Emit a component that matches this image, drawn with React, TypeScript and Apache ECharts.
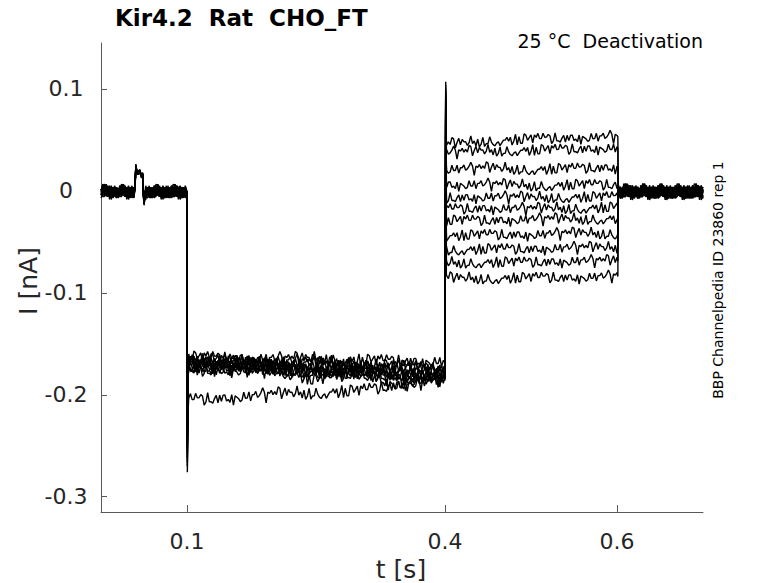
import React, { useEffect, useRef } from "react";
import * as echarts from "echarts";

// ---- data ----
const sweepCount = 11;
const sampleStep = 0.002; // s
const endTime = 0.7;
const holdLevel = -0.001; // nA

// small electrode artifact before the pulse
const artifactTimes = [0.0395, 0.0405, 0.0415, 0.043, 0.045, 0.047, 0.0485, 0.0495, 0.0502, 0.0512];
const artifactValues = [0.002, 0.024, 0.019, 0.017, 0.019, 0.015, 0.016, -0.006, -0.012, -0.002];

// hyperpolarising prepulse (0.1 - 0.4 s)
const stepOnTime = 0.1;
const stepOnSpike = [-0.276, -0.27, -0.266, -0.262, -0.258, -0.255, -0.252, -0.25, -0.247, -0.244, -0.24];
const prepulseTimes = [0.1, 0.15, 0.2, 0.25, 0.3, 0.35, 0.4];
const prepulseLevels = [
  [-0.205, -0.203, -0.2, -0.198, -0.196, -0.19, -0.184],
  [-0.163, -0.164, -0.165, -0.165, -0.166, -0.167, -0.168],
  [-0.165, -0.166, -0.167, -0.168, -0.17, -0.172, -0.174],
  [-0.167, -0.168, -0.168, -0.17, -0.171, -0.172, -0.175],
  [-0.168, -0.169, -0.17, -0.172, -0.173, -0.176, -0.178],
  [-0.17, -0.17, -0.171, -0.173, -0.175, -0.18, -0.18],
  [-0.17, -0.171, -0.173, -0.176, -0.176, -0.178, -0.182],
  [-0.172, -0.172, -0.174, -0.178, -0.177, -0.188, -0.18],
  [-0.173, -0.174, -0.175, -0.186, -0.178, -0.18, -0.183],
  [-0.174, -0.175, -0.176, -0.177, -0.179, -0.192, -0.184],
  [-0.176, -0.176, -0.177, -0.178, -0.18, -0.182, -0.186],
];

// test pulses (0.4 - 0.6 s)
const testOnTime = 0.4;
const testOnSpike = [0.107, 0.104, 0.1, 0.097, 0.094, 0.09, 0.087, 0.084, 0.08, 0.077, 0.074];
const testTimes = [0.4, 0.45, 0.5, 0.55, 0.6];
const testLevels = [
  [0.045, 0.049, 0.051, 0.052, 0.053],
  [0.037, 0.039, 0.04, 0.041, 0.042],
  [0.021, 0.022, 0.021, 0.022, 0.023],
  [0.006, 0.006, 0.005, 0.006, 0.006],
  [-0.007, -0.006, -0.007, -0.006, -0.006],
  [-0.018, -0.017, -0.018, -0.017, -0.016],
  [-0.029, -0.029, -0.028, -0.028, -0.027],
  [-0.044, -0.043, -0.043, -0.042, -0.042],
  [-0.058, -0.057, -0.057, -0.056, -0.056],
  [-0.071, -0.07, -0.07, -0.069, -0.069],
  [-0.086, -0.086, -0.085, -0.085, -0.084],
];
const testOffTime = 0.601;

// recording noise, in pA (hand-typed)
const jitter = [
  2, -1, 3, -3, 1, 4, -2, 0, -4, 2, 1, -3, 3, -1, 5, -2, -4, 1, 2, -1,
  -3, 4, 0, -2, 3, -4, 1, 2, -3, 0, 4, -1, -2, 3, -5, 1, 2, -2, 0, 3,
  -3, 1, 4, -1, -2, 2, -4, 3, 0, -1, 2, -3, 5, -2, 1, -1, 3, -4, 0, 2,
  -2, 4, -3, 1, -1, 2, -5, 3, 0, -2, 1, 4, -3, 2, -1, 0, 3, -2, -4, 2,
  1, -3, 4, -1, 0, 2, -2, 3, -4, 1, -1, 5, -3, 2, 0, -2, 1, 3, -1, -3, 2,
];

const xTicks = [0.1, 0.4, 0.6];
const yTicks = [0.1, 0, -0.1, -0.2, -0.3];

// ---- build sweeps ----
function interp(ts: number[], vs: number[], t: number): number {
  if (t <= ts[0]) return vs[0];
  for (let j = 1; j < ts.length; j++) {
    if (t <= ts[j]) {
      const f = (t - ts[j - 1]) / (ts[j] - ts[j - 1]);
      return vs[j - 1] + f * (vs[j] - vs[j - 1]);
    }
  }
  return vs[vs.length - 1];
}

function buildSweep(k: number): number[][] {
  const pts: number[][] = [];
  const nz = (i: number, amp: number) => jitter[(i * 7 + k * 31) % jitter.length] * 0.001 * amp;
  const n = Math.round(endTime / sampleStep);
  const iOn = Math.round(stepOnTime / sampleStep);
  const iTest = Math.round(testOnTime / sampleStep);
  const iOff = Math.round(0.6 / sampleStep);
  let artifactDone = false;
  for (let i = 0; i <= n; i++) {
    const t = i * sampleStep;
    if (i < iOn) {
      if (t >= artifactTimes[0] - 1e-9 && t <= artifactTimes[artifactTimes.length - 1] + 1e-9) {
        if (!artifactDone) {
          artifactTimes.forEach((at, j) => pts.push([at, artifactValues[j] + nz(i + j, 0.5)]));
          artifactDone = true;
        }
        continue;
      }
      pts.push([t, holdLevel + nz(i, 1.5)]);
    } else if (i === iOn) {
      pts.push([stepOnTime, holdLevel]);
      pts.push([stepOnTime + 0.0004, stepOnSpike[k]]);
      pts.push([stepOnTime + 0.0012, prepulseLevels[k][0] - 0.012]);
    } else if (i < iTest) {
      pts.push([t, interp(prepulseTimes, prepulseLevels[k], t) + nz(i, 1.5)]);
    } else if (i === iTest) {
      pts.push([testOnTime, prepulseLevels[k][prepulseLevels[k].length - 1]]);
      pts.push([testOnTime + 0.0008, testOnSpike[k]]);
      pts.push([testOnTime + 0.0016, testLevels[k][0] + 0.004]);
    } else if (i <= iOff) {
      pts.push([t, interp(testTimes, testLevels[k], t) + nz(i, 1.3)]);
      if (i === iOff) {
        pts.push([testOffTime, testLevels[k][testLevels[k].length - 1]]);
        pts.push([testOffTime + 0.0004, holdLevel]);
      }
    } else {
      pts.push([t, holdLevel + nz(i, 1.6)]);
    }
  }
  return pts;
}

const FONT = "DejaVu Sans";
const TXT = "#262626";
const AXIS = "#595959";

export default function App() {
  const ref = useRef<HTMLDivElement>(null);
  useEffect(() => {
    if (!ref.current) return;
    const chart = echarts.init(ref.current, null, { renderer: "svg" });
    const series = [];
    for (let k = 0; k < sweepCount; k++) {
      series.push({
        type: "line",
        data: buildSweep(k),
        showSymbol: false,
        symbol: "none",
        lineStyle: { color: "#000000", width: 1.4 },
        clip: true,
      });
    }
    chart.setOption({
      animation: false,
      backgroundColor: "#ffffff",
      grid: { left: 101, right: 75, top: 43, bottom: 71, containLabel: false, outerBoundsMode: "none" },
      xAxis: {
        type: "value",
        min: 0,
        max: 0.7,
        axisLine: { onZero: false, show: true, lineStyle: { color: AXIS, width: 1 } },
        axisTick: { show: true, inside: true, length: 7, customValues: xTicks, lineStyle: { color: AXIS } },
        axisLabel: {
          customValues: xTicks,
          formatter: (v: number) => String(v),
          color: TXT,
          fontFamily: FONT,
          fontSize: 22,
          margin: 18,
        },
        splitLine: { show: false },
      },
      yAxis: {
        type: "value",
        min: -0.315,
        max: 0.145,
        axisLine: { onZero: false, show: true, lineStyle: { color: AXIS, width: 1 } },
        axisTick: { show: true, inside: true, length: 6, customValues: yTicks, lineStyle: { color: AXIS } },
        axisLabel: {
          customValues: yTicks,
          formatter: (v: number) => String(v),
          color: TXT,
          fontFamily: FONT,
          fontSize: 22,
          margin: 35,
          align: "center",
        },
        splitLine: { show: false },
      },
      series,
      graphic: [
        {
          type: "text",
          left: 115,
          top: 6,
          style: { text: "Kir4.2  Rat  CHO_FT", font: `bold 23px "${FONT}"`, fill: "#000000" },
        },
        {
          type: "text",
          x: 703,
          y: 41,
          style: {
            text: "25 °C  Deactivation",
            font: `19px "${FONT}"`,
            fill: "#000000",
            align: "right",
            verticalAlign: "middle",
          },
        },
        {
          type: "text",
          x: 718,
          y: 280,
          rotation: Math.PI / 2,
          style: {
            text: "BBP Channelpedia ID 23860 rep 1",
            font: `14px "${FONT}"`,
            fill: "#000000",
            align: "center",
            verticalAlign: "middle",
          },
        },
        {
          type: "text",
          x: 28,
          y: 281,
          rotation: Math.PI / 2,
          style: {
            text: "I [nA]",
            font: `25px "${FONT}"`,
            fill: TXT,
            align: "center",
            verticalAlign: "middle",
          },
        },
        {
          type: "text",
          x: 401,
          y: 569,
          style: {
            text: "t [s]",
            font: `25px "${FONT}"`,
            fill: TXT,
            align: "center",
            verticalAlign: "middle",
          },
        },
      ],
    });
    return () => chart.dispose();
  }, []);
  return (
    <div
      ref={ref}
      style={{ position: "fixed", left: 0, top: 0, width: 778, height: 583, background: "#fff" }}
    />
  );
}
